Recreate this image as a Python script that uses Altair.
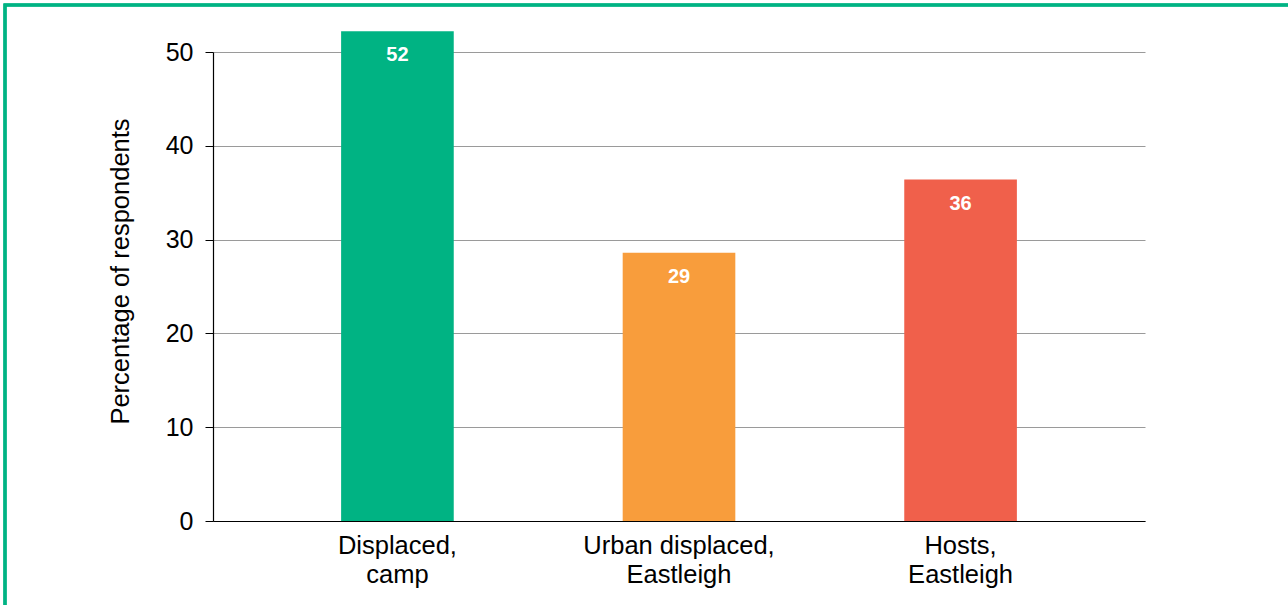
import altair as alt
import pandas as pd

# Share of respondents per group
groups = ["Displaced, camp", "Urban displaced, Eastleigh", "Hosts, Eastleigh"]
values = [52.2, 28.6, 36.4]
colors = ["#00B383", "#F89D3C", "#F0604B"]

df = pd.DataFrame({"group": groups, "value": values})

FONT = "Liberation Sans"

x_enc = alt.X(
    "group:N",
    sort=groups,
    title=None,
    scale=alt.Scale(paddingInner=0.6, paddingOuter=0.455),
    axis=alt.Axis(
        grid=False,
        labelAngle=0,
        labelFontSize=25.5,
        labelColor="#000000",
        labelFont=FONT,
        labelPadding=12,
        labelLineHeight=29,
        labelBaseline="top",
        labelLimit=0,
        ticks=False,
        domainColor="#000000",
        domainWidth=1.2,
        labelExpr="split(replace(datum.label, ', ', ',|'), '|')",
    ),
)

y_enc = alt.Y(
    "value:Q",
    scale=alt.Scale(domain=[0, 50], nice=False),
    axis=alt.Axis(
        values=[0, 10, 20, 30, 40, 50],
        title="Percentage of respondents",
        titleFontSize=25.5,
        titleFontWeight="normal",
        titleFont=FONT,
        titleColor="#000000",
        titleAngle=270,
        titleAlign="center",
        titleBaseline="bottom",
        titleX=-80,
        titleY=219,
        labelFontSize=25,
        labelFont=FONT,
        labelColor="#000000",
        labelPadding=12,
        tickSize=8,
        tickColor="#000000",
        domainColor="#000000",
        domainWidth=1.2,
        gridColor="#9a9a9a",
        gridWidth=1,
    ),
)

bars = alt.Chart(df).mark_bar().encode(
    x=x_enc,
    y=y_enc,
    color=alt.Color("group:N", scale=alt.Scale(domain=groups, range=colors), legend=None),
)

labels = alt.Chart(df).mark_text(
    color="white", fontWeight="bold", fontSize=20, font=FONT, baseline="middle", dy=24
).encode(
    x=alt.X("group:N", sort=groups),
    y="value:Q",
    text=alt.Text("value:Q", format=".0f"),
)

# Outline frame; its right and bottom edges fall outside the canvas
frame = alt.Chart(df).mark_rect(
    fill="transparent", stroke="#00B383", strokeWidth=3
).encode(
    x=alt.value(-208), x2=alt.value(1100), y=alt.value(-47), y2=alt.value(570)
)

chart = (
    alt.layer(bars, labels, frame)
    .properties(
        width=932,
        height=469,
        autosize=alt.AutoSizeParams(type="none"),
        padding={"left": 213, "top": 52, "right": 143, "bottom": 84},
    )
    .configure_view(stroke=None)
)

chart.save("out.html", embed_options={"renderer": "svg", "actions": False})
